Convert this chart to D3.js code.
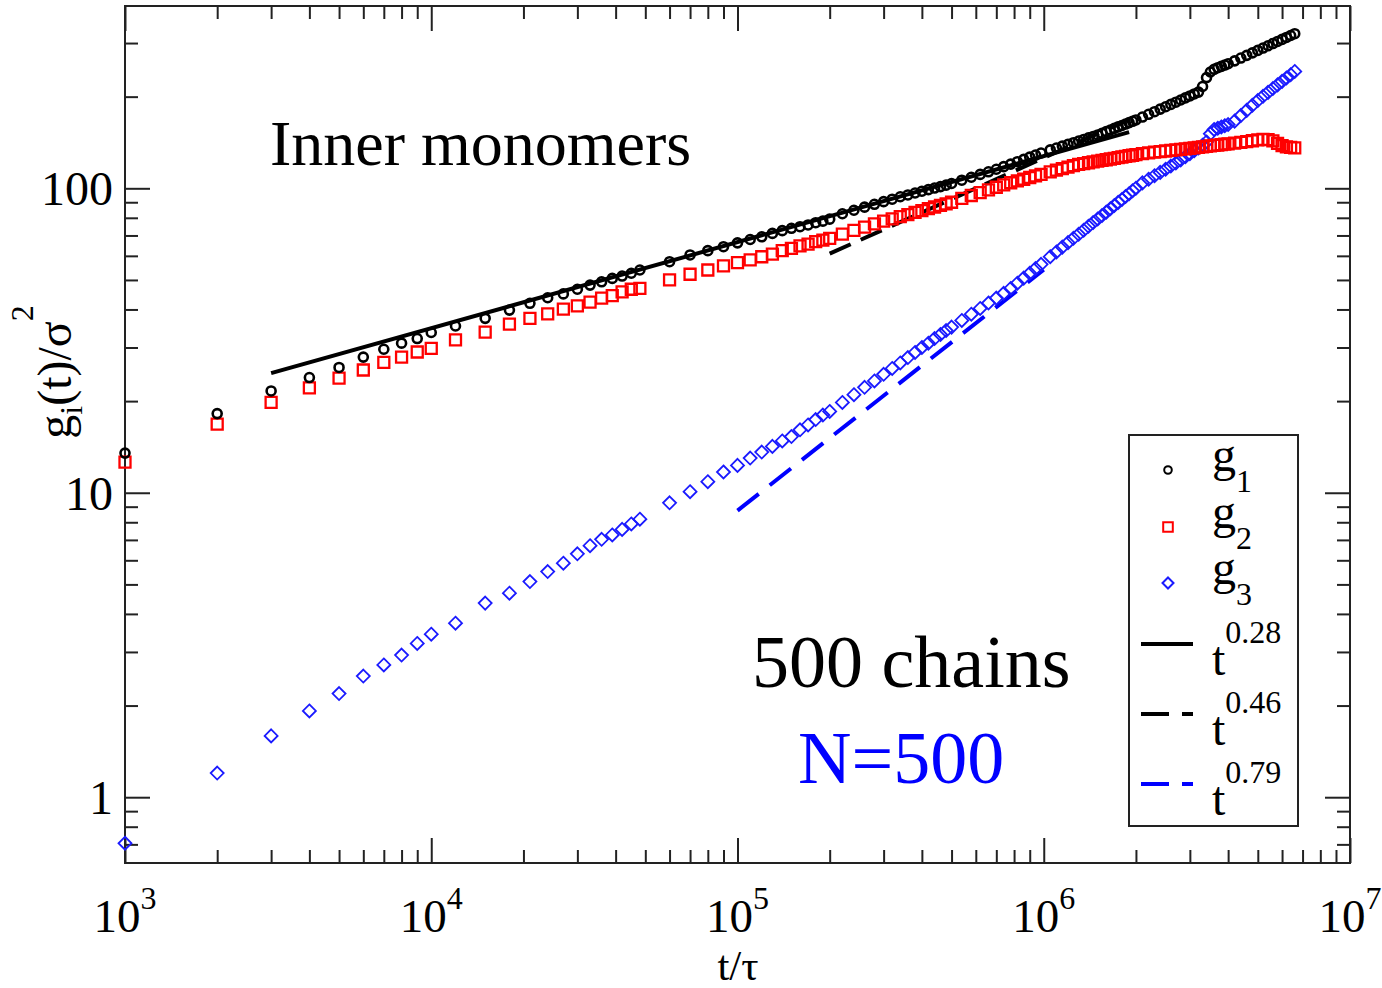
<!DOCTYPE html>
<html>
<head>
<meta charset="utf-8">
<script src="https://cdn.jsdelivr.net/npm/d3@7"></script>
<style>
  body { margin: 0; background: #fff; }
  svg text { font-family: "Liberation Serif", "Times New Roman", serif; }
</style>
</head>
<body>
<div id="container"></div>
<script>
// sample times t/tau, shared by the three series
let times = [
  1e3, 2e3, 3e3, 4e3, 5e3, 6e3, 7e3, 8e3, 9e3, 1e4,
  12e3, 15e3, 18e3, 21e3, 24e3, 27e3, 30e3, 33e3, 36e3, 39e3, 42e3, 45e3, 48e3,
  6e4, 7e4, 8e4, 9e4, 1e5, 1.1e5, 1.2e5, 1.3e5, 1.4e5, 1.5e5, 1.6e5, 1.7e5, 1.8e5, 1.9e5, 2e5,
  2.2e5, 2.4e5, 2.6e5, 2.8e5, 3e5, 3.2e5, 3.4e5, 3.6e5, 3.8e5, 4e5, 4.2e5, 4.4e5, 4.6e5, 4.8e5, 5e5,
  5.4e5, 5.8e5, 6.2e5, 6.6e5, 7e5, 7.4e5, 7.8e5, 8.2e5, 8.6e5, 9e5, 9.4e5, 9.8e5,
  1.05e6, 1.1e6, 1.15e6, 1.2e6, 1.25e6, 1.3e6, 1.35e6, 1.4e6, 1.45e6, 1.5e6,
  1.55e6, 1.6e6, 1.65e6, 1.7e6, 1.75e6, 1.8e6, 1.85e6, 1.9e6, 1.95e6, 2e6,
  2.1e6, 2.2e6, 2.3e6, 2.4e6, 2.5e6, 2.6e6, 2.7e6, 2.8e6, 2.9e6, 3e6,
  3.1e6, 3.2e6, 3.3e6, 3.4e6, 3.5e6, 3.6e6, 3.7e6, 3.8e6, 3.9e6, 4e6,
  4.2e6, 4.4e6, 4.6e6, 4.8e6, 5e6, 5.2e6, 5.4e6, 5.6e6, 5.8e6, 6e6, 6.2e6, 6.4e6, 6.6e6
];

let g1 = [
  13.5, 18.2, 21.6, 23.9, 25.8, 27.9, 29.6, 31.0, 32.1, 33.6,
  35.3, 37.4, 39.8, 41.9, 43.7, 45.0, 46.6, 48.1, 49.3, 50.6, 51.5, 52.6, 53.9,
  57.4, 60.4, 62.4, 64.3, 66.2, 67.9, 69.3, 71.1, 72.6, 73.9, 74.8, 75.8, 77.1, 78.0, 79.2,
  82.5, 84.7, 86.7, 88.6, 90.4, 92.1, 93.8, 95.1, 96.5, 97.8, 99.0, 100.2, 101.3, 102.4, 103.7,
  106.3, 108.7, 111.1, 113.3, 115.5, 117.8, 120.1, 122.3, 124.5, 126.6, 128.6, 130.6,
  133.7, 135.6, 137.6, 139.4, 141.2, 143.0, 144.7, 146.4, 148.0, 149.7,
  151.6, 153.6, 155.4, 157.3, 159.1, 160.8, 162.6, 164.3, 166.0, 167.7,
  171.4, 175.0, 178.5, 182.0, 185.3, 188.6, 191.8, 195.0, 198.1, 201.1,
  204.1, 207, 216, 231, 241, 246, 249, 251.5, 254, 256.5,
  262.2, 267.8, 273.3, 278.6, 283.8, 288.9, 293.9, 298.8, 303.6, 308.4, 313.0, 317.6, 322
];

let g2 = [
  12.6, 16.8, 19.8, 22.1, 23.8, 25.3, 26.8, 27.9, 29.0, 29.8,
  31.8, 33.7, 35.8, 37.4, 38.7, 40.1, 41.1, 42.3, 43.6, 44.4, 45.7, 46.6, 46.9,
  50.0, 52.2, 53.9, 55.6, 57.0, 58.2, 59.6, 60.8, 62.4, 63.5, 64.7, 65.6, 66.8, 67.6, 68.5,
  70.7, 72.7, 74.6, 76.4, 78.0, 79.4, 80.7, 82.0, 83.3, 84.5, 85.7, 86.8, 87.9, 88.9, 90.0,
  92.6, 94.7, 96.8, 98.8, 100.8, 102.6, 104.3, 105.7, 107.1, 108.5, 109.8, 111.1,
  113.2, 114.7, 116.1, 117.4, 118.8, 119.8, 120.6, 121.3, 122.1, 122.8,
  123.5, 124.1, 124.8, 125.4, 126.1, 126.7, 127.3, 127.9, 128.4, 129.0,
  130.0, 130.7, 131.4, 132.0, 132.6, 133.2, 133.8, 134.3, 134.8, 135.3,
  135.8, 136.3, 136.8, 137.3, 137.8, 138.3, 138.7, 139.2, 139.6, 140.0,
  140.8, 141.6, 142.4, 143.3, 144.2, 144.8, 144.5, 143.2, 140.5, 138.0, 136.8, 136.2, 135.8
];

let g3 = [
  0.706, 1.20, 1.59, 1.92, 2.19, 2.50, 2.72, 2.93, 3.20, 3.43,
  3.73, 4.34, 4.68, 5.11, 5.51, 5.87, 6.30, 6.70, 7.03, 7.27, 7.58, 7.90, 8.19,
  9.27, 10.08, 10.87, 11.7, 12.3, 13.0, 13.6, 14.2, 14.8, 15.3, 16.1, 16.7, 17.4, 18.0, 18.5,
  19.8, 21.0, 22.2, 23.3, 24.5, 25.6, 26.7, 27.8, 28.9, 30.0, 31.0, 32.1, 33.1, 34.1, 35.0,
  36.8, 38.6, 40.3, 42.0, 43.6, 45.2, 46.9, 48.8, 50.7, 52.6, 54.5, 56.3,
  59.6, 61.8, 64.1, 66.3, 68.5, 70.6, 72.8, 75.0, 77.2, 79.3,
  81.4, 83.5, 85.7, 87.8, 89.9, 91.9, 94.0, 96.0, 98.1, 100.1,
  104.2, 107.1, 110.0, 112.8, 115.5, 118.3, 121.0, 124.0, 127.0, 129.9,
  132.8, 135.7, 138.5, 142, 151, 156, 157.5, 159, 160.5, 162,
  166.2, 173.3, 180.3, 187.3, 194.2, 200.5, 206.6, 212.6, 218.6, 224.5, 230.4, 236.2, 242
];

// power-law guide lines, end points [t, g]
let fit028 = [[3000, 24.7], [1.9e6, 153]];
let fit046 = [[2e5, 61], [2e6, 172]];
let fit079 = [[1e5, 8.74], [1e6, 54]];

let xMajor = [1e3, 1e4, 1e5, 1e6, 1e7];
let xExponents = ["3", "4", "5", "6", "7"];
let yMajor = [1, 10, 100];
let yLabels = ["1", "10", "100"];

let w = 1382;
let h = 988;
let padLeft = 125, padRight = 1350, padTop = 6, padBottom = 863;

let viz = d3.select("#container")
  .append("svg")
    .attr("width", w)
    .attr("height", h)
    .style("display", "block")
;

let xScale = d3.scaleLog().domain([1e3, 1e7]).range([padLeft, padRight]);
let yScale = d3.scaleLog().domain([0.608, 397]).range([padBottom, padTop]);

let xMinor = xScale.ticks().filter(function(d){ return xMajor.indexOf(d) < 0; });
let yMinor = yScale.ticks().filter(function(d){ return yMajor.indexOf(d) < 0; });

// ticks on all four sides, pointing inwards
function tickGroup(axis, tx, ty, values, size){
  let g = viz.append("g")
    .attr("transform", "translate(" + tx + "," + ty + ")")
    .call(axis.tickValues(values).tickSize(-size).tickSizeOuter(0).tickFormat(""));
  g.select(".domain").remove();
  g.selectAll("line").attr("stroke", "#222").attr("stroke-width", 2);
}
tickGroup(d3.axisBottom(xScale), 0, padBottom, xMajor, 25);
tickGroup(d3.axisBottom(xScale), 0, padBottom, xMinor, 13);
tickGroup(d3.axisTop(xScale), 0, padTop, xMajor, 25);
tickGroup(d3.axisTop(xScale), 0, padTop, xMinor, 13);
tickGroup(d3.axisLeft(yScale), padLeft, 0, yMajor, 25);
tickGroup(d3.axisLeft(yScale), padLeft, 0, yMinor, 13);
tickGroup(d3.axisRight(yScale), padRight, 0, yMajor, 25);
tickGroup(d3.axisRight(yScale), padRight, 0, yMinor, 13);

viz.append("rect")
  .attr("x", padLeft).attr("y", padTop)
  .attr("width", padRight - padLeft).attr("height", padBottom - padTop)
  .attr("fill", "none").attr("stroke", "#222").attr("stroke-width", 2);

// tick labels
let xl = viz.append("g").selectAll("text").data(xMajor).enter()
  .append("text")
    .attr("x", function(d){ return xScale(d); })
    .attr("y", 932)
    .attr("text-anchor", "middle")
    .attr("font-size", 47)
;
xl.append("tspan").text("10");
xl.append("tspan").attr("dy", -23).attr("font-size", 32)
  .text(function(d, i){ return xExponents[i]; });

viz.append("g").selectAll("text").data(yMajor).enter()
  .append("text")
    .attr("x", 113)
    .attr("y", function(d){ return yScale(d) + 17; })
    .attr("text-anchor", "end")
    .attr("font-size", 48)
    .text(function(d, i){ return yLabels[i]; })
;

// axis titles
viz.append("text")
  .attr("x", 738).attr("y", 980)
  .attr("text-anchor", "middle")
  .attr("font-size", 43)
  .text("t/τ");

let yt = viz.append("text")
  .attr("transform", "translate(71,372) rotate(-90)")
  .attr("text-anchor", "middle")
  .attr("font-size", 48);
yt.append("tspan").text("g");
yt.append("tspan").attr("dy", 11).attr("font-size", 32).text("i");
yt.append("tspan").attr("dy", -11).text("(t)/σ");
yt.append("tspan").attr("dy", -38).attr("font-size", 32).text("2");

// guide lines
let lineMaker = d3.line()
  .x(function(d){ return xScale(d[0]); })
  .y(function(d){ return yScale(d[1]); });

let graphGroup = viz.append("g");

graphGroup.append("path").attr("d", lineMaker(fit028))
  .attr("fill", "none").attr("stroke", "black").attr("stroke-width", 4);
graphGroup.append("path").attr("d", lineMaker(fit046))
  .attr("fill", "none").attr("stroke", "black").attr("stroke-width", 4)
  .attr("stroke-dasharray", "23,11");
graphGroup.append("path").attr("d", lineMaker(fit079))
  .attr("fill", "none").attr("stroke", "blue").attr("stroke-width", 4)
  .attr("stroke-dasharray", "27,14");

// symbols
let circleSym = "M4.5,0A4.5,4.5 0 1,1 -4.5,0A4.5,4.5 0 1,1 4.5,0Z";
let squareSym = "M-5.5,-5.5H5.5V5.5H-5.5Z";
let diamondSym = "M0,-6.5L6.5,0L0,6.5L-6.5,0Z";

function drawSeries(values, sym, color, sw){
  graphGroup.append("g").selectAll("path").data(values).enter()
    .append("path")
      .attr("d", sym)
      .attr("transform", function(d, i){
        return "translate(" + xScale(times[i]) + "," + yScale(d) + ")";
      })
      .attr("fill", "none")
      .attr("stroke", color)
      .attr("stroke-width", sw)
  ;
}
drawSeries(g3, diamondSym, "#1a1aff", 1.8);
drawSeries(g2, squareSym, "#ff0000", 2.3);
drawSeries(g1, circleSym, "black", 2.6);

// annotations
viz.append("text").attr("x", 270).attr("y", 165).attr("font-size", 64)
  .text("Inner monomers");
viz.append("text").attr("x", 752).attr("y", 687).attr("font-size", 74)
  .text("500 chains");
viz.append("text").attr("x", 798).attr("y", 783).attr("font-size", 74)
  .attr("fill", "blue").text("N=500");

// legend
let legend = viz.append("g");
legend.append("rect")
  .attr("x", 1129).attr("y", 435).attr("width", 169).attr("height", 391)
  .attr("fill", "white").attr("stroke", "#222").attr("stroke-width", 2);

let symRows = [
  {sym: "M3.8,0A3.8,3.8 0 1,1 -3.8,0A3.8,3.8 0 1,1 3.8,0Z", color: "black", y: 470, sub: "1"},
  {sym: "M-4.8,-4.8H4.8V4.8H-4.8Z", color: "#ff0000", y: 527, sub: "2"},
  {sym: "M0,-5.5L5.5,0L0,5.5L-5.5,0Z", color: "#1a1aff", y: 583, sub: "3"}
];
symRows.forEach(function(r){
  legend.append("path").attr("d", r.sym)
    .attr("transform", "translate(1168," + r.y + ")")
    .attr("fill", "none").attr("stroke", r.color).attr("stroke-width", 2);
  let t = legend.append("text").attr("x", 1212).attr("y", r.y + 1).attr("font-size", 48);
  t.append("tspan").text("g");
  t.append("tspan").attr("dy", 21).attr("font-size", 32).text(r.sub);
});

let lineRows = [
  {color: "black", dash: null, y: 644, exp: "0.28"},
  {color: "black", dash: "28,13", y: 714, exp: "0.46"},
  {color: "blue", dash: "28,13", y: 784, exp: "0.79"}
];
lineRows.forEach(function(r){
  legend.append("line")
    .attr("x1", 1141).attr("x2", 1193).attr("y1", r.y).attr("y2", r.y)
    .attr("stroke", r.color).attr("stroke-width", 4)
    .attr("stroke-dasharray", r.dash);
  let t = legend.append("text").attr("x", 1212).attr("y", r.y + 31).attr("font-size", 48);
  t.append("tspan").text("t");
  t.append("tspan").attr("dy", -32).attr("font-size", 32).text(r.exp);
});
</script>
</body>
</html>
